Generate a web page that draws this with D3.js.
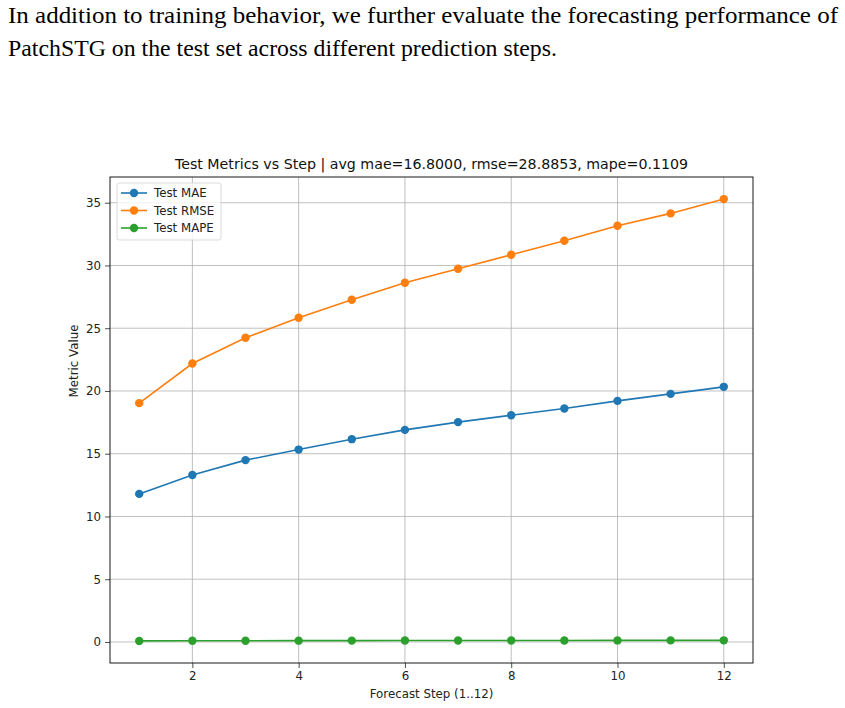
<!DOCTYPE html>
<html>
<head>
<meta charset="utf-8">
<script src="https://cdn.jsdelivr.net/npm/d3@7"></script>
<style>
  body { margin: 0; background: #fff; }
  svg { display: block; }
</style>
</head>
<body>
<div id="my_dataviz"></div>
<script>
// data
var steps = [1, 2, 3, 4, 5, 6, 7, 8, 9, 10, 11, 12];
var testMAE = [11.80, 13.31, 14.49, 15.33, 16.16, 16.90, 17.52, 18.07, 18.60, 19.21, 19.77, 20.33];
var testRMSE = [19.03, 22.19, 24.24, 25.83, 27.27, 28.62, 29.74, 30.85, 31.97, 33.17, 34.15, 35.29];
var testMAPE = [0.085, 0.093, 0.099, 0.104, 0.108, 0.112, 0.115, 0.118, 0.121, 0.124, 0.127, 0.130];
var seriesNames = ["Test MAE", "Test RMSE", "Test MAPE"];
var xTicks = [2, 4, 6, 8, 10, 12];
var yTicks = [0, 5, 10, 15, 20, 25, 30, 35];
var titleText = "Test Metrics vs Step | avg mae=16.8000, rmse=28.8853, mape=0.1109";
var paraLines = [
  "In addition to training behavior, we further evaluate the forecasting performance of",
  "PatchSTG on the test set across different prediction steps."
];

var myColor = d3.scaleOrdinal().domain(seriesNames)
  .range(["#1f77b4", "#ff7f0e", "#2ca02c"]);

var series = [
  {name: seriesNames[0], values: testMAE},
  {name: seriesNames[1], values: testRMSE},
  {name: seriesNames[2], values: testMAPE}
];

var W = 845, H = 708;
var margin = {top: 177, right: 92, bottom: 45, left: 110},
    width = W - margin.left - margin.right,
    height = H - margin.top - margin.bottom;

var root = d3.select("#my_dataviz").append("svg")
  .attr("width", W)
  .attr("height", H);

root.append("rect").attr("width", W).attr("height", H).attr("fill", "#fff");

// paragraph above the figure (scanned text looks a bit condensed)
var para = root.append("g")
  .style("font-family", "'Liberation Serif', 'Times New Roman', serif")
  .style("font-size", "23.5px")
  .attr("fill", "#000");
para.append("text")
  .attr("x", 8).attr("y", 23)
  .attr("textLength", 830)
  .attr("lengthAdjust", "spacingAndGlyphs")
  .text(paraLines[0]);
para.append("text")
  .attr("x", 8).attr("y", 56)
  .attr("textLength", 549)
  .attr("lengthAdjust", "spacingAndGlyphs")
  .text(paraLines[1]);

var svg = root.append("g")
  .attr("transform", "translate(" + margin.left + "," + margin.top + ")")
  .style("font-family", "'DejaVu Sans', sans-serif");

// matplotlib style 5% padding
var allVals = testMAE.concat(testRMSE, testMAPE);
var yMin = d3.min(allVals), yMax = d3.max(allVals);
var yPad = (yMax - yMin) * 0.05;

var x = d3.scaleLinear()
  .domain([1 - 11 * 0.05, 12 + 11 * 0.05])
  .range([0, width]);

var y = d3.scaleLinear()
  .domain([yMin - yPad, yMax + yPad])
  .range([height, 0]);

// grid
svg.append("g").selectAll("line")
  .data(xTicks).enter().append("line")
  .attr("x1", d => x(d)).attr("x2", d => x(d))
  .attr("y1", 0).attr("y2", height)
  .attr("stroke", "#b0b0b0").attr("stroke-width", 0.8);
svg.append("g").selectAll("line")
  .data(yTicks).enter().append("line")
  .attr("x1", 0).attr("x2", width)
  .attr("y1", d => y(d)).attr("y2", d => y(d))
  .attr("stroke", "#b0b0b0").attr("stroke-width", 0.8);

// axes
var xAxis = svg.append("g")
  .attr("transform", "translate(0," + height + ")")
  .call(d3.axisBottom(x).tickValues(xTicks).tickSize(5).tickPadding(4));
var yAxis = svg.append("g")
  .call(d3.axisLeft(y).tickValues(yTicks).tickSize(5).tickPadding(4));
[xAxis, yAxis].forEach(function(a) {
  a.select(".domain").remove();
  a.selectAll("text").style("font-family", "'DejaVu Sans', sans-serif")
    .style("font-size", "11.8px").attr("fill", "#222");
  a.selectAll("line").attr("stroke", "#222").attr("stroke-width", 0.8);
});

// lines + markers
var line = d3.line()
  .x((d, i) => x(steps[i]))
  .y(d => y(d));

svg.selectAll(".line")
  .data(series).enter()
  .append("path")
  .attr("class", "line")
  .attr("fill", "none")
  .attr("stroke", d => myColor(d.name))
  .attr("stroke-width", 1.6)
  .attr("d", d => line(d.values));

series.forEach(function(s) {
  svg.append("g").selectAll("circle")
    .data(s.values).enter()
    .append("circle")
    .attr("cx", (d, i) => x(steps[i]))
    .attr("cy", d => y(d))
    .attr("r", 4.2)
    .attr("fill", myColor(s.name));
});

// frame
svg.append("rect")
  .attr("width", width).attr("height", height)
  .attr("fill", "none").attr("stroke", "#000").attr("stroke-width", 0.9);

// legend
var lg = svg.append("g").attr("transform", "translate(7,6)");
lg.append("rect")
  .attr("width", 104).attr("height", 57).attr("rx", 2.5)
  .attr("fill", "#fff").attr("fill-opacity", 0.8)
  .attr("stroke", "#d0d0d0").attr("stroke-width", 0.8);
var items = lg.selectAll(".legend")
  .data(seriesNames).enter()
  .append("g")
  .attr("class", "legend")
  .attr("transform", (d, i) => "translate(0," + (10 + i * 17.5) + ")");
items.append("line")
  .attr("x1", 4).attr("x2", 30)
  .attr("stroke", d => myColor(d)).attr("stroke-width", 1.6);
items.append("circle")
  .attr("cx", 17).attr("r", 4.2)
  .attr("fill", d => myColor(d));
items.append("text")
  .attr("x", 37).attr("dy", "0.35em")
  .style("font-size", "11.8px").attr("fill", "#222")
  .text(d => d);

// title
svg.append("text")
  .attr("x", width / 2).attr("y", -8)
  .attr("text-anchor", "middle")
  .style("font-size", "14.2px").attr("fill", "#111")
  .text(titleText);

// x title
svg.append("text")
  .attr("x", width / 2).attr("y", height + 35)
  .attr("text-anchor", "middle")
  .style("font-size", "11.8px").attr("fill", "#222")
  .text("Forecast Step (1..12)");

// y title
svg.append("text")
  .attr("transform", "rotate(-90)")
  .attr("x", -(y(20) - 30)).attr("y", -32)
  .attr("text-anchor", "middle")
  .style("font-size", "11.8px").attr("fill", "#222")
  .text("Metric Value");
</script>
</body>
</html>
